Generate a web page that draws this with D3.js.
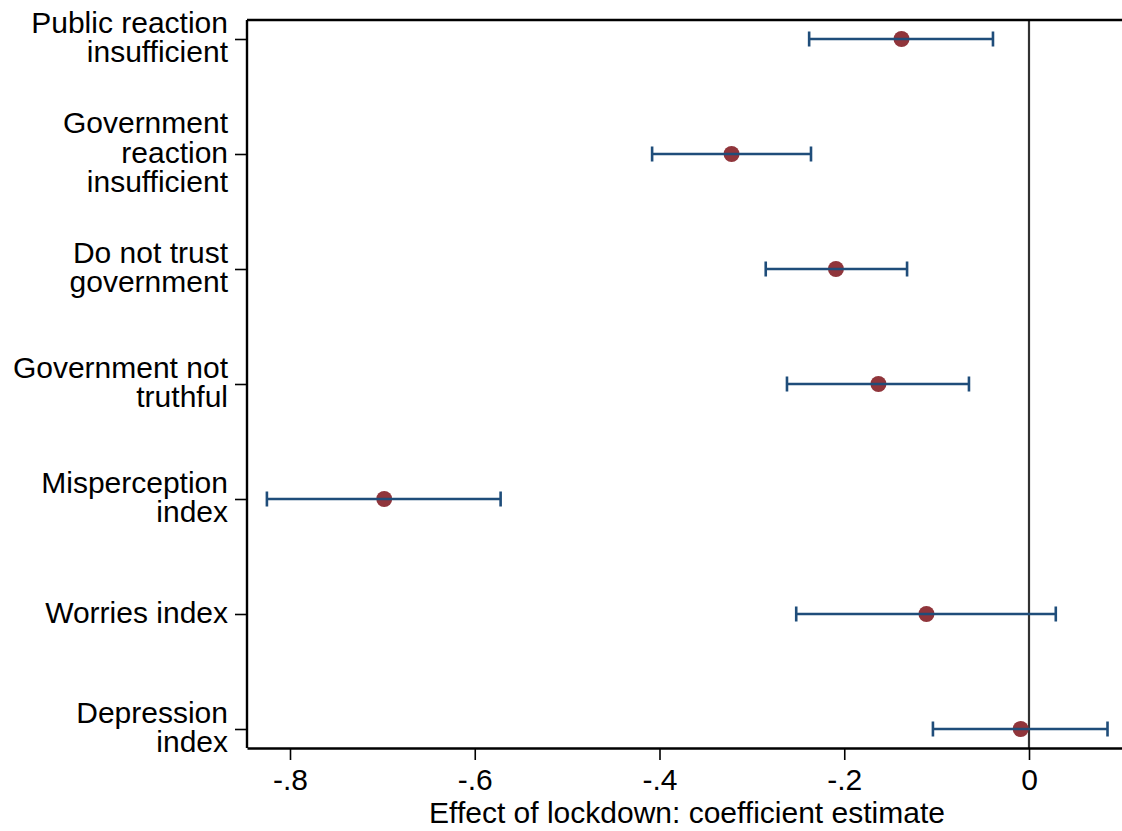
<!DOCTYPE html>
<html><head><meta charset="utf-8">
<script src="https://cdn.jsdelivr.net/npm/d3@7"></script>
<style>
html,body{margin:0;padding:0;background:#fff;}
svg{display:block;font-family:"Liberation Sans",Arial,sans-serif;}
</style></head>
<body>
<svg id="c" width="1122" height="831"></svg>
<script>
const categories = [
  ["Public reaction","insufficient"],
  ["Government","reaction","insufficient"],
  ["Do not trust","government"],
  ["Government not","truthful"],
  ["Misperception","index"],
  ["Worries index"],
  ["Depression","index"]
];
const estimates = [-0.138, -0.322, -0.209, -0.163, -0.698, -0.111, -0.009];
const ciLow    = [-0.238, -0.408, -0.285, -0.262, -0.825, -0.252, -0.104];
const ciHigh   = [-0.039, -0.236, -0.132, -0.065, -0.572, 0.029, 0.085];
const xTicks = [-0.8, -0.6, -0.4, -0.2, 0];
const xTickLabels = ["-.8", "-.6", "-.4", "-.2", "0"];
const xTitle = "Effect of lockdown: coefficient estimate";

(function(){
const svg = d3.select("#c");
const pL = 247, pR = 1122, pT = 20, pB = 748;
const x0 = d3.scaleLinear().domain([-0.8, 0]).range([290, 1029]);
const x = d3.scaleLinear().domain([x0.invert(pL), x0.invert(pR)]).range([pL, pR]);
const ids = categories.map((d, i) => i);
const y = d3.scalePoint().domain(ids).range([39, 729]);

// zero line
svg.append("line").attr("x1", x(0)).attr("x2", x(0)).attr("y1", pT).attr("y2", pB)
  .attr("stroke", "#333").attr("stroke-width", 2.2);

// axes
const xAxis = d3.axisBottom(x).tickValues(xTicks).tickFormat((d, i) => xTickLabels[i])
  .tickSizeInner(12).tickSizeOuter(0).tickPadding(9);
const gx = svg.append("g").attr("transform", `translate(0,${pB})`).call(xAxis);
gx.select(".domain").attr("stroke", "#000").attr("stroke-width", 2.4);
gx.selectAll(".tick line").attr("stroke", "#000").attr("stroke-width", 1.6);
gx.selectAll(".tick text").attr("font-size", 30).attr("fill", "#000")
  .attr("font-family", "Liberation Sans, Arial, sans-serif");

const yAxis = d3.axisLeft(y).tickSizeInner(12).tickSizeOuter(0).tickFormat("");
const gy = svg.append("g").attr("transform", `translate(${pL},0)`).call(yAxis);
gy.select(".domain").attr("d", `M0,${pT}V${pB}`).attr("stroke", "#000").attr("stroke-width", 2.4);
gy.selectAll(".tick line").attr("stroke", "#000").attr("stroke-width", 1.6);

// top border
svg.append("line").attr("x1", pL).attr("x2", pR).attr("y1", pT).attr("y2", pT)
  .attr("stroke", "#000").attr("stroke-width", 2.4);

// y labels (one text element per category, lines as tspans)
const lh = 29.5;
const labels = svg.append("g").attr("font-size", 30).attr("fill", "#000").attr("text-anchor", "end");
categories.forEach((lines, i) => {
  const n = lines.length;
  const t = labels.append("text");
  lines.forEach((s, j) => {
    t.append("tspan").attr("x", 228)
      .attr("y", y(i) + (j - (n - 1) / 2) * lh + 8.5)
      .text(s);
  });
});

// markers
const g = svg.append("g");
g.selectAll("circle").data(ids).join("circle")
  .attr("cx", i => x(estimates[i])).attr("cy", i => y(i)).attr("r", 8)
  .attr("fill", "#90353b");
g.selectAll("path.ci").data(ids).join("path").attr("class", "ci")
  .attr("d", i => {
    const a = x(ciLow[i]), b = x(ciHigh[i]), c = y(i);
    return `M${a},${c}H${b}M${a},${c-7.5}V${c+7.5}M${b},${c-7.5}V${c+7.5}`;
  })
  .attr("fill", "none").attr("stroke", "#1f4d7a").attr("stroke-width", 2.6);

// x title
svg.append("text").attr("x", 687).attr("y", 823).attr("text-anchor", "middle")
  .attr("font-size", 30).attr("fill", "#000").text(xTitle);
})();
</script>
</body></html>
